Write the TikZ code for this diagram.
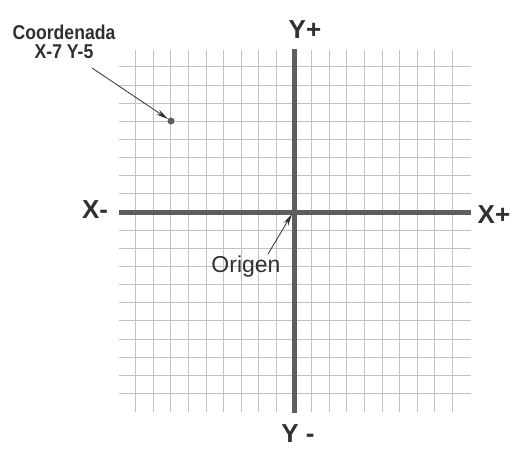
\documentclass[tikz,border=0pt]{standalone}
\usepackage{fontspec}
\setmainfont{Liberation Sans}
\newfontfamily\narrowsans[FakeStretch=0.88]{Liberation Sans}
\usetikzlibrary{arrows.meta,calc}
\definecolor{inkc}{HTML}{303030}
\definecolor{axisc}{HTML}{5E5E5E}
\definecolor{gridc}{HTML}{C2C2C2}
\begin{document}
\begin{tikzpicture}[x=1pt,y=-1pt,
  gridline/.style={draw=gridc,line width=0.9pt},
  axisline/.style={draw=axisc,line width=5pt},
  axlabel/.style={text=inkc,font=\fontsize{26}{26}\selectfont\bfseries,inner sep=0pt},
  callout/.style={draw=inkc,line width=0.8pt,-{Stealth[length=12pt,width=5.5pt]}}]
\path[fill=white,use as bounding box] (0,0) rectangle (513,448);
% grid
\foreach \i in {-9,...,9} \draw[gridline] ({294+17.6*\i},50) -- ({294+17.6*\i},412);
\foreach \j in {-10,...,8} \draw[gridline] (119,{212-18.15*\j}) -- (471,{212-18.15*\j});
% axes
\draw[axisline] (119,212) -- (471,212);
\draw[axisline] (294,49) -- (294,413);
\coordinate (O) at (294,212);
% labels
\node[axlabel] (yp) at (305,30) {Y+};
\node[axlabel] (ym) at (298,434) {Y -};
\node[axlabel] (xm) at (95,210) {X-};
\node[axlabel] (xp) at (494,215) {X+};
\node[text=inkc,font=\fontsize{23}{23}\selectfont,inner sep=0pt] (orig) at (246,267) {Origen};
\node[text=inkc,font=\narrowsans\fontsize{20}{19}\selectfont\bfseries,inner sep=0pt,align=center] (coord) at (64,42) {Coordenada\\X-7 Y-5};
% point
\node[circle,fill=axisc,inner sep=0pt,minimum size=7pt] (pt) at (171,121) {};
\coordinate (cs) at (92,68);
\coordinate (os) at (268,254);
\coordinate (ot) at (292,214);
\draw[callout] (cs) -- (pt);
\draw[callout] (os) -- (ot);
\end{tikzpicture}
\end{document}
